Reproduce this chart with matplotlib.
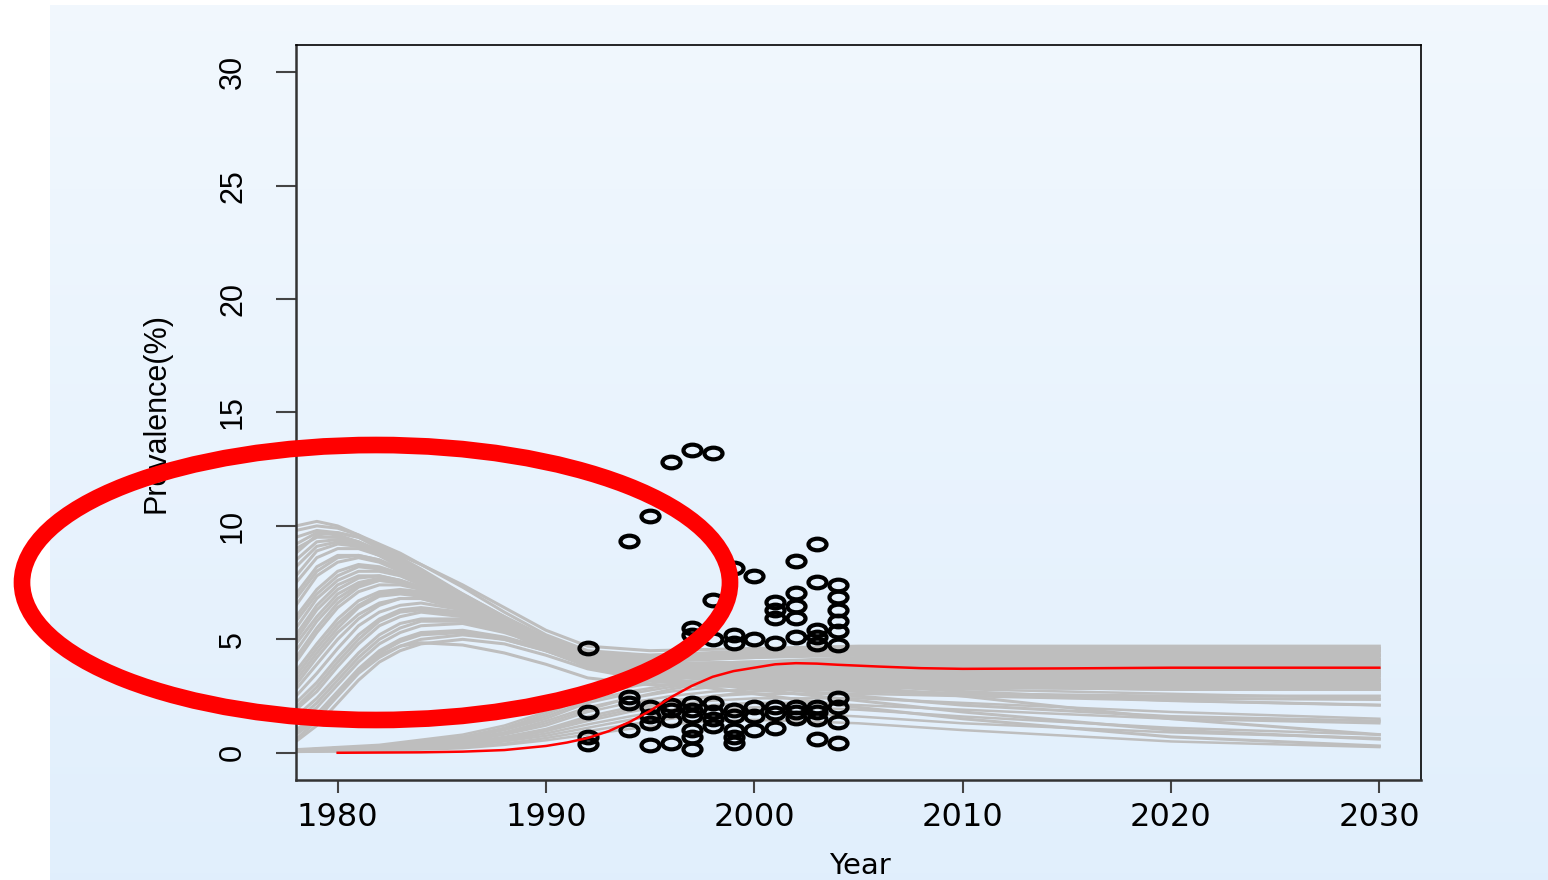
import numpy as np
import matplotlib
matplotlib.use("Agg")
import matplotlib.pyplot as plt
from matplotlib.patches import Ellipse
from matplotlib.path import Path
from matplotlib.transforms import Affine2D

# simulated curves that start high and peak early
years_a = [1978, 1979, 1980, 1981, 1982, 1983, 1984, 1986, 1988, 1990, 1992, 1995, 2000, 2005, 2010, 2020, 2030]
curves_a = [
    [10.0, 10.2, 10.0, 9.6, 9.1, 8.7, 8.3, 7.4, 6.4, 5.4, 4.7, 4.5, 4.6, 4.7, 4.7, 4.7, 4.7],
    [9.8, 10.0, 9.9, 9.6, 9.2, 8.8, 8.3, 7.3, 6.2, 5.2, 4.5, 4.3, 4.4, 4.5, 4.5, 4.5, 4.5],
    [9.5, 9.8, 9.7, 9.5, 9.1, 8.6, 8.1, 7.0, 6.0, 5.0, 4.3, 4.1, 4.2, 4.3, 4.3, 4.3, 4.3],
    [9.2, 9.7, 9.6, 9.3, 8.9, 8.5, 8.0, 7.0, 6.0, 5.1, 4.4, 4.2, 4.3, 4.4, 4.4, 4.4, 4.4],
    [9.0, 9.5, 9.5, 9.3, 8.9, 8.4, 7.9, 6.8, 5.8, 4.8, 4.1, 3.9, 4.0, 4.1, 4.1, 4.1, 4.1],
    [8.8, 9.6, 9.7, 9.5, 9.0, 8.5, 8.0, 6.9, 5.9, 5.0, 4.4, 4.3, 4.5, 4.6, 4.6, 4.6, 4.6],
    [8.5, 9.3, 9.4, 9.2, 8.8, 8.3, 7.8, 6.7, 5.6, 4.7, 4.0, 3.8, 3.8, 3.9, 3.9, 3.9, 3.9],
    [8.2, 9.1, 9.3, 9.1, 8.7, 8.2, 7.7, 6.7, 5.7, 4.8, 4.1, 3.8, 3.7, 3.7, 3.7, 3.7, 3.7],
    [7.8, 8.9, 9.2, 9.1, 8.7, 8.2, 7.7, 6.6, 5.5, 4.6, 3.9, 3.5, 3.2, 2.9, 2.5, 1.5, 0.8],
    [7.5, 8.6, 9.0, 9.0, 8.7, 8.3, 7.8, 6.8, 5.8, 4.9, 4.2, 3.9, 3.9, 4.0, 4.0, 4.0, 4.0],
    [7.0, 8.2, 8.7, 8.7, 8.5, 8.1, 7.7, 6.7, 5.7, 4.8, 4.1, 3.7, 3.6, 3.6, 3.6, 3.5, 3.5],
    [6.8, 8.0, 8.6, 8.7, 8.5, 8.1, 7.7, 6.8, 5.8, 4.9, 4.2, 3.9, 4.0, 4.1, 4.2, 4.2, 4.2],
    [6.5, 7.8, 8.4, 8.6, 8.4, 8.0, 7.6, 6.6, 5.6, 4.7, 4.0, 3.6, 3.4, 3.4, 3.3, 3.2, 3.2],
    [6.0, 7.2, 8.0, 8.3, 8.2, 7.9, 7.5, 6.6, 5.6, 4.7, 4.0, 3.7, 3.7, 3.8, 3.8, 3.8, 3.8],
    [5.8, 7.0, 7.8, 8.2, 8.1, 7.9, 7.5, 6.6, 5.6, 4.7, 4.0, 3.5, 3.2, 3.0, 2.9, 2.8, 2.8],
    [5.5, 6.8, 7.6, 8.0, 8.0, 7.8, 7.4, 6.6, 5.7, 4.8, 4.1, 3.8, 3.9, 4.0, 4.1, 4.1, 4.1],
    [5.2, 6.5, 7.4, 7.8, 7.8, 7.6, 7.2, 6.3, 5.4, 4.5, 3.8, 3.3, 2.8, 2.3, 1.8, 1.0, 0.6],
    [5.0, 6.3, 7.2, 7.7, 7.8, 7.6, 7.3, 6.5, 5.6, 4.8, 4.1, 3.6, 3.3, 3.2, 3.1, 3.0, 3.0],
    [4.8, 6.0, 7.0, 7.5, 7.7, 7.6, 7.3, 6.5, 5.6, 4.7, 4.0, 3.6, 3.5, 3.5, 3.4, 3.4, 3.4],
    [4.5, 5.8, 6.8, 7.4, 7.6, 7.5, 7.2, 6.5, 5.6, 4.8, 4.2, 3.9, 4.0, 4.2, 4.3, 4.3, 4.3],
    [4.2, 5.5, 6.6, 7.3, 7.6, 7.5, 7.3, 6.6, 5.7, 4.9, 4.3, 4.1, 4.3, 4.5, 4.6, 4.6, 4.6],
    [4.0, 5.3, 6.4, 7.1, 7.4, 7.4, 7.2, 6.5, 5.6, 4.8, 4.1, 3.7, 3.6, 3.6, 3.6, 3.6, 3.6],
    [3.6, 4.8, 5.9, 6.7, 7.1, 7.2, 7.1, 6.5, 5.7, 4.9, 4.2, 3.8, 3.8, 3.9, 3.9, 3.9, 3.9],
    [3.4, 4.6, 5.7, 6.5, 7.0, 7.1, 7.0, 6.4, 5.6, 4.8, 4.1, 3.7, 3.6, 3.7, 3.7, 3.7, 3.7],
    [3.2, 4.4, 5.5, 6.4, 6.9, 7.0, 6.9, 6.4, 5.6, 4.8, 4.1, 3.6, 3.4, 3.3, 3.2, 3.1, 3.1],
    [3.0, 4.2, 5.3, 6.1, 6.6, 6.8, 6.8, 6.3, 5.5, 4.6, 3.8, 3.2, 2.6, 2.0, 1.5, 0.7, 0.3],
    [2.8, 3.9, 5.0, 5.9, 6.5, 6.8, 6.8, 6.4, 5.7, 4.9, 4.2, 3.7, 3.5, 3.5, 3.5, 3.5, 3.5],
    [2.5, 3.5, 4.6, 5.6, 6.2, 6.5, 6.6, 6.3, 5.6, 4.9, 4.3, 4.0, 4.2, 4.4, 4.5, 4.5, 4.5],
    [2.2, 3.1, 4.2, 5.2, 5.9, 6.3, 6.4, 6.2, 5.6, 4.9, 4.2, 3.7, 3.5, 3.4, 3.4, 3.3, 3.3],
    [2.0, 2.9, 4.0, 5.0, 5.8, 6.2, 6.3, 6.1, 5.5, 4.8, 4.1, 3.5, 3.0, 2.8, 2.6, 2.4, 2.35],
    [1.9, 2.7, 3.8, 4.8, 5.6, 6.0, 6.2, 6.0, 5.5, 4.8, 4.2, 3.6, 3.2, 3.0, 2.9, 2.8, 2.8],
    [1.6, 2.4, 3.4, 4.4, 5.2, 5.7, 5.9, 5.9, 5.4, 4.8, 4.2, 3.8, 3.8, 3.9, 3.9, 3.9, 3.9],
    [1.4, 2.2, 3.2, 4.2, 5.0, 5.5, 5.8, 5.8, 5.4, 4.8, 4.2, 3.8, 3.6, 3.6, 3.6, 3.6, 3.6],
    [1.3, 2.0, 3.0, 4.0, 4.8, 5.3, 5.6, 5.7, 5.3, 4.7, 4.1, 3.6, 3.3, 3.1, 3.0, 2.9, 2.9],
    [1.0, 1.7, 2.7, 3.7, 4.5, 5.0, 5.3, 5.4, 5.1, 4.6, 4.0, 3.5, 3.2, 3.0, 2.7, 2.3, 2.1],
    [0.9, 1.6, 2.6, 3.6, 4.4, 4.9, 5.2, 5.3, 5.0, 4.5, 3.9, 3.4, 3.1, 3.0, 3.0, 3.0, 3.0],
    [0.8, 1.5, 2.5, 3.5, 4.2, 4.7, 5.0, 5.2, 5.0, 4.5, 3.9, 3.3, 2.9, 2.5, 2.1, 1.6, 1.4],
    [0.6, 1.4, 2.6, 3.6, 4.3, 4.7, 4.85, 4.75, 4.4, 3.9, 3.3, 3.0, 3.0, 2.9, 2.9, 2.9, 2.9],
    [0.5, 1.2, 2.2, 3.2, 4.0, 4.5, 4.8, 5.0, 4.8, 4.3, 3.7, 3.2, 2.9, 2.7, 2.6, 2.5, 2.5],
]

# simulated curves that start near zero and rise late
years_b = [1978, 1982, 1986, 1988, 1990, 1992, 1994, 1996, 1998, 2000, 2002, 2005, 2010, 2020, 2030]
curves_b = [
    [0.15, 0.35, 0.8, 1.2, 1.8, 2.6, 3.0, 3.3, 3.5, 3.6, 3.7, 3.7, 3.7, 3.7, 3.7],
    [0.12, 0.3, 0.7, 1.05, 1.6, 2.3, 2.7, 3.0, 3.2, 3.3, 3.4, 3.4, 3.4, 3.4, 3.4],
    [0.12, 0.3, 0.7, 1.1, 1.7, 2.45, 2.9, 3.2, 3.5, 3.7, 3.9, 4.0, 4.1, 4.1, 4.1],
    [0.1, 0.28, 0.65, 1.0, 1.5, 2.2, 2.6, 2.9, 3.1, 3.2, 3.2, 3.2, 3.2, 3.2, 3.2],
    [0.1, 0.25, 0.6, 0.9, 1.4, 2.0, 2.4, 2.7, 2.9, 3.0, 3.1, 3.1, 3.1, 3.0, 3.0],
    [0.1, 0.25, 0.55, 0.85, 1.3, 1.9, 2.4, 2.8, 3.1, 3.3, 3.4, 3.5, 3.5, 3.5, 3.5],
    [0.1, 0.22, 0.5, 0.8, 1.2, 1.8, 2.2, 2.5, 2.7, 2.8, 2.9, 2.9, 2.8, 2.6, 2.4],
    [0.08, 0.2, 0.45, 0.7, 1.05, 1.6, 2.0, 2.3, 2.5, 2.6, 2.6, 2.6, 2.5, 2.3, 2.1],
    [0.08, 0.2, 0.42, 0.65, 1.0, 1.5, 1.9, 2.2, 2.5, 2.7, 2.8, 2.9, 2.9, 2.8, 2.8],
    [0.08, 0.18, 0.4, 0.6, 0.95, 1.4, 1.8, 2.1, 2.3, 2.4, 2.4, 2.4, 2.2, 1.8, 1.5],
    [0.06, 0.15, 0.35, 0.55, 0.85, 1.25, 1.6, 1.9, 2.1, 2.2, 2.2, 2.1, 1.9, 1.5, 1.3],
    [0.05, 0.12, 0.3, 0.5, 0.75, 1.1, 1.45, 1.7, 1.9, 2.0, 2.0, 1.9, 1.6, 1.1, 0.8],
    [0.05, 0.1, 0.25, 0.4, 0.65, 0.95, 1.25, 1.5, 1.7, 1.8, 1.75, 1.6, 1.3, 0.9, 0.65],
    [0.04, 0.08, 0.2, 0.35, 0.55, 0.8, 1.05, 1.25, 1.4, 1.45, 1.4, 1.3, 1.0, 0.5, 0.25],
]

# best-fit curve (red)
fit_years = [1980, 1984, 1986, 1988, 1990, 1991, 1992, 1993, 1994, 1995, 1996, 1997, 1998,
             1999, 2000, 2001, 2002, 2003, 2004, 2006, 2008, 2010, 2015, 2020, 2030]
fit_values = [0.0, 0.02, 0.05, 0.12, 0.3, 0.45, 0.65, 0.95, 1.35, 1.85, 2.45, 2.95, 3.35,
              3.6, 3.75, 3.9, 3.95, 3.93, 3.88, 3.8, 3.73, 3.7, 3.72, 3.75, 3.75]

# observed survey points
obs_years = ([1992] * 4 + [1994] * 4 + [1995] * 5 + [1996] * 5 + [1997] * 9 + [1998] * 7
             + [1999] * 8 + [2000] * 5 + [2001] * 7 + [2002] * 8 + [2003] * 9 + [2004] * 10)
obs_values = [4.6, 1.8, 0.7, 0.4,
              9.35, 2.45, 2.2, 1.0,
              10.45, 2.0, 1.6, 1.3, 0.35,
              12.8, 2.1, 1.9, 1.45, 0.45,
              13.35, 5.5, 5.2, 2.2, 1.9, 1.6, 1.0, 0.7, 0.15,
              13.2, 6.75, 5.0, 2.2, 1.8, 1.5, 1.2,
              8.15, 5.2, 4.85, 1.9, 1.6, 1.0, 0.7, 0.45,
              7.8, 5.0, 2.0, 1.6, 1.0,
              6.65, 6.3, 5.95, 4.85, 2.0, 1.75, 1.1,
              8.45, 7.05, 6.45, 5.95, 5.1, 2.0, 1.8, 1.55,
              9.2, 7.55, 5.4, 5.1, 4.8, 2.0, 1.8, 1.5, 0.6,
              7.4, 6.85, 6.3, 5.8, 5.35, 4.75, 2.4, 2.0, 1.35, 0.45]

x_ticks = [1980, 1990, 2000, 2010, 2020, 2030]
y_ticks = [0, 5, 10, 15, 20, 25, 30]

W, H = 1548, 880
fig = plt.figure(figsize=(W / 100, H / 100), dpi=100)
fig.patch.set_facecolor('white')

# light blue gradient behind everything
bg = fig.add_axes([50 / W, 0, 1 - 50 / W, 1 - 5 / H], zorder=-10)
top_c = np.array([0.947, 0.972, 0.996])
bot_c = np.array([0.882, 0.937, 0.990])
t = np.linspace(0, 1, 256)[:, None, None]
grad = top_c * (1 - t) + bot_c * t
bg.imshow(grad, aspect='auto', extent=[0, 1, 0, 1])
bg.axis('off')

ax = fig.add_axes([296 / W, 100 / H, 1125 / W, 735 / H])
ax.set_facecolor('none')

for c in curves_a:
    ax.plot(years_a, c, color='#bebebe', lw=2.2, zorder=2)
for c in curves_b:
    ax.plot(years_b, c, color='#bebebe', lw=1.8, zorder=2)

# ellipse-shaped open marker (the original picture is stretched sideways)
ell_marker = Path.unit_circle().transformed(Affine2D().scale(1.55, 1.0))
ax.plot(obs_years, obs_values, linestyle='none', marker=ell_marker, markersize=13,
        markerfacecolor='none', markeredgecolor='black', markeredgewidth=3.0, zorder=3)

ax.plot(fit_years, fit_values, color='red', lw=1.8, zorder=4)

ax.set_xlim(1978, 2032)
ax.set_ylim(-1.2, 31.2)
ax.set_xticks(x_ticks)
ax.set_yticks(y_ticks)
ax.set_xticklabels([str(v) for v in x_ticks], fontsize=23, family='DejaVu Sans')
ax.set_yticklabels([str(v) for v in y_ticks], fontsize=22, family='Liberation Sans')
for lbl in ax.get_yticklabels():
    lbl.set_rotation(90)
    lbl.set_va('center')
ax.tick_params(axis='y', length=14.5, width=1.5, color='#444444', pad=20)
ax.tick_params(axis='x', length=9.5, width=1.5, color='#444444', pad=6)
for s in ['top', 'right']:
    ax.spines[s].set_linewidth(1.2)
    ax.spines[s].set_color('black')
for s in ['left', 'bottom']:
    ax.spines[s].set_linewidth(1.8)
    ax.spines[s].set_color('#333333')

fig.text(157 / W, 1 - 413 / H, 'Prevalence(%)', rotation=90, ha='center', va='center',
         fontsize=22, family='Liberation Sans')
fig.text(860 / W, 1 - 852 / H, 'Year', ha='center', va='top', fontsize=21, family='DejaVu Sans')

# big red ring drawn over the chart
ring = Ellipse((376 / W, 1 - 582.5 / H), 708 / W, 275 / H, transform=fig.transFigure,
               fill=False, edgecolor='red', lw=12, zorder=20)
fig.add_artist(ring)

fig.savefig('out.png', dpi=100)
